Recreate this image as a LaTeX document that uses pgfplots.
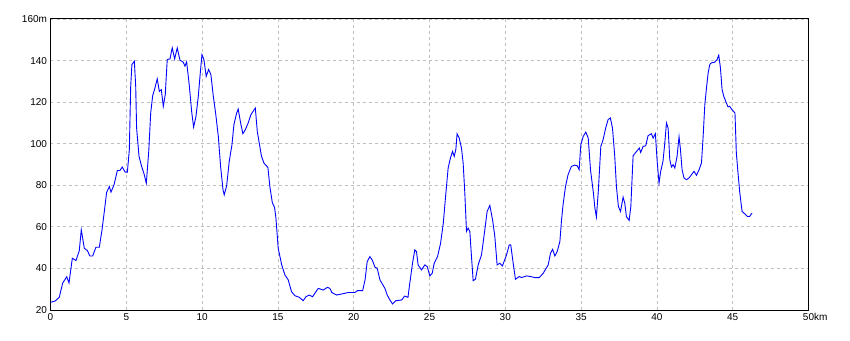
\documentclass[border=0pt]{standalone}
\usepackage{pgfplots}
\pgfplotsset{compat=1.18}
\usepackage{fontspec}
\setmainfont{Liberation Sans}
\begin{document}
\begin{tikzpicture}
\path[use as bounding box] (-50.5pt,-30pt) rectangle (799.5pt,310pt);
\begin{axis}[
  scale only axis,
  width=758pt, height=291pt,
  xmin=0, xmax=50, ymin=20, ymax=160,
  xtick={0,5,...,50},
  ytick={20,40,...,160},
  xticklabels={0,5,10,15,20,25,30,35,40,45,50\rlap{km}},
  yticklabels={20,40,60,80,100,120,140,160m},
  major tick length=0pt,
  grid=major,
  major grid style={gray!50, dash pattern=on 3pt off 3pt, line width=0.8pt},
  axis line style={black, line width=1pt},
  tick label style={font=\fontsize{10}{12}\selectfont},
  /pgf/number format/assume math mode=true,
  clip=false,
]
\addplot[blue, line width=0.9pt] coordinates {
(0,23.7)(0.3,24.3)(0.58,26.1)(0.8,32.9)(1.07,36)(1.22,33)(1.44,44.9)(1.68,43.8)(1.9,48.6)(2.03,58.6)(2.23,49.7)(2.43,48.6)(2.6,46)(2.78,46)(3.0,50.2)(3.22,50.2)(3.4,58.6)(3.55,67.4)(3.7,76.5)(3.88,79.4)(3.99,76.7)(4.19,80.2)(4.41,87.1)(4.58,87.1)(4.73,88.8)(4.93,86.3)(5.07,86.3)(5.2,97.1)(5.29,127.6)(5.37,138.1)(5.53,139.7)(5.62,127.6)(5.68,107.5)(5.84,93.9)(6.01,89.1)(6.17,85.5)(6.32,81)(6.48,96.3)(6.61,114.8)(6.74,123.1)(6.89,126.8)(7.04,131.2)(7.18,125.2)(7.31,126)(7.44,118)(7.57,123.6)(7.7,140.5)(7.88,140.8)(8.03,146.1)(8.19,140.8)(8.36,146.1)(8.54,140.2)(8.76,139.2)(8.87,137.3)(8.98,139.4)(9.15,128.4)(9.31,115.6)(9.44,108)(9.59,112.9)(9.75,122.8)(9.86,132.4)(9.99,142.9)(10.12,140.5)(10.27,132.4)(10.43,135.7)(10.58,133.3)(10.74,122.8)(10.89,114.8)(11.07,103.5)(11.22,89.1)(11.38,77.8)(11.46,75.4)(11.62,79.8)(11.79,91.5)(11.97,99.5)(12.1,109.2)(12.27,114.5)(12.38,116.7)(12.54,110)(12.69,104.8)(12.85,106.7)(13.04,110)(13.22,114)(13.37,115.6)(13.51,117.2)(13.64,105.9)(13.77,100.3)(13.92,93.9)(14.08,90.7)(14.34,88.6)(14.47,79.4)(14.63,71.7)(14.78,69.3)
(14.87,64.2)(15.02,49.7)(15.25,41.7)(15.46,36.9)(15.68,34.5)(15.9,28.8)(16.12,26.9)(16.41,26.1)(16.67,24.5)(16.85,26.4)(17.07,27.2)(17.29,26.4)(17.51,28.8)(17.66,30.4)(17.99,29.6)(18.26,30.9)(18.43,30.4)(18.56,28.4)(18.87,27.2)(19.2,27.7)(19.64,28.4)(20.08,28.4)(20.24,29.3)(20.59,29.3)(20.75,34.5)(20.89,43.3)(21.07,45.7)(21.24,43.8)(21.4,40.6)(21.55,40.1)(21.73,34.5)(22.06,30.4)(22.21,27.2)(22.39,24.8)(22.56,22.9)(22.78,24.5)(23.16,24.8)(23.36,26.7)(23.58,26.1)(23.7,32.9)(23.88,42.5)(24.03,48.9)(24.14,48.1)(24.25,41.7)(24.47,39.3)(24.69,41.7)(24.85,40.9)(25.02,36.4)(25.18,37.7)(25.31,42.5)(25.53,45.7)(25.73,52.1)(25.91,61.8)(26.08,76.2)(26.23,88.3)(26.38,93.1)(26.52,96.3)(26.63,93.9)(26.74,97.4)(26.82,104.8)(26.96,102.7)(27.11,97.9)(27.22,90.7)(27.33,76.2)(27.44,57.8)(27.55,59.4)(27.66,57.8)(27.77,45.7)(27.88,34.1)(28.03,34.8)(28.21,41.7)(28.43,46.5)(28.65,58.6)(28.8,67.4)(28.98,70.3)(29.16,63.4)(29.31,55.3)(29.46,41.7)(29.64,42.5)(29.81,41.2)
(30.08,46.5)(30.26,51.3)(30.36,51.3)(30.52,42.5)(30.67,34.8)(30.92,36.1)(31.07,35.6)(31.4,36.4)(31.66,36.1)(31.95,35.6)(32.24,35.6)(32.5,37.7)(32.83,41.7)(32.98,47.3)(33.12,49.2)(33.27,46)(33.42,48.1)(33.6,52.9)(33.71,63.4)(33.81,70.6)(33.97,79.4)(34.14,85.1)(34.36,89.1)(34.58,89.7)(34.74,89.4)(34.87,87.5)(34.98,99.5)(35.14,103.5)(35.31,105.6)(35.47,102.7)(35.62,87.5)(35.8,77)(35.91,69)(36.01,64.7)(36.14,77.8)(36.3,98.7)(36.45,101.9)(36.62,107.5)(36.78,111.6)(36.93,112.4)(37.07,107.5)(37.22,93.9)(37.33,79.4)(37.46,69.8)(37.6,67.4)(37.77,74.3)(37.88,71.4)(37.99,64.9)(38.17,63.1)(38.28,69.8)(38.43,94.2)(38.66,96.3)(38.84,97.9)(38.93,95.8)(39.09,98.7)(39.26,99)(39.42,103.9)(39.64,104.8)(39.75,102.7)(39.9,104.8)(40.01,92.3)(40.14,81)(40.25,86.7)(40.4,91.5)(40.52,100.3)(40.63,110)(40.74,107.5)(40.85,92.3)(40.96,88.8)(41.07,89.9)(41.18,88.3)(41.33,93.9)(41.46,103.4)(41.55,97.5)(41.66,87.5)(41.79,83.5)(41.95,82.7)(42.12,83.5)(42.28,85.1)(42.45,86.7)(42.61,84.8)(42.78,87.5)(42.94,90.7)(43.05,103.5)(43.16,118.8)(43.27,126.8)(43.38,134.1)(43.49,138.1)(43.6,138.9)(43.81,139.2)(43.97,140.5)(44.08,142.6)(44.19,136.5)(44.3,126)(44.41,122.8)(44.54,120.4)(44.69,117.7)(44.8,118)(44.95,116.4)(45.15,114.8)(45.24,95.5)(45.37,84.3)(45.46,77)(45.55,71.4)(45.62,67.4)(45.79,66.3)(45.97,65)(46.12,65)(46.27,66.6)
};
\end{axis}
\end{tikzpicture}
\end{document}
